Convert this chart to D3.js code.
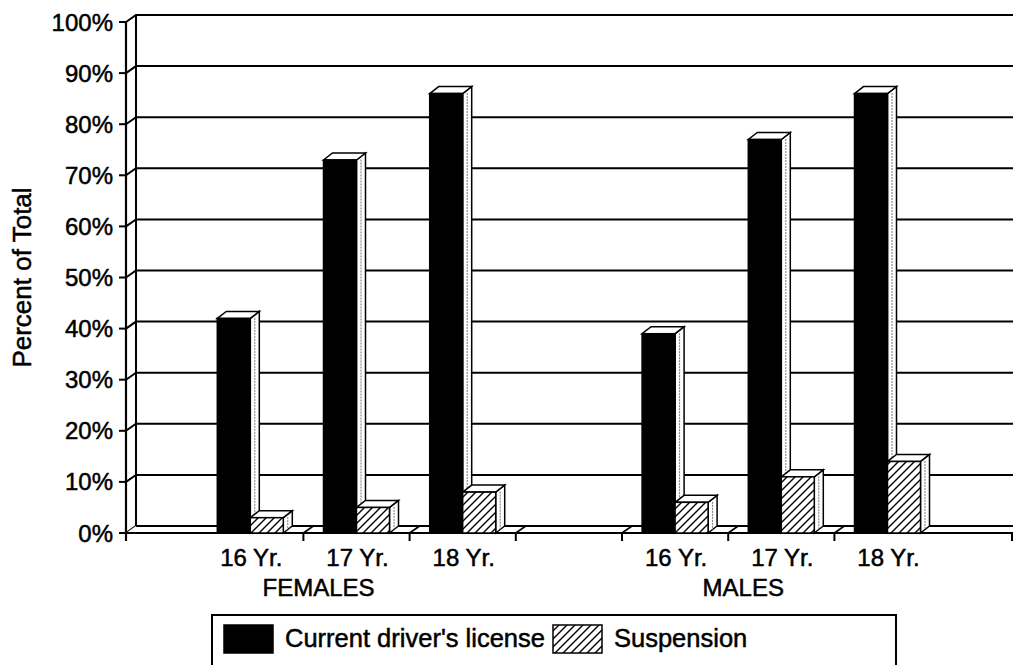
<!DOCTYPE html>
<html>
<head>
<meta charset="utf-8">
<script src="https://cdn.jsdelivr.net/npm/d3@7"></script>
<style>
  body { margin: 0; background: #fff; }
  svg text { font-family: "Liberation Sans", Arial, sans-serif; fill: #000; stroke: #000; stroke-width: 0.5px; }
</style>
</head>
<body>
<svg id="chart" width="1013" height="665"></svg>
<script>
// chart data
const groups = ["FEMALES", "MALES"];
const categories = ["16 Yr.", "17 Yr.", "18 Yr."];
const seriesNames = ["Current driver's license", "Suspension"];
const licenseValues = [42, 73, 86, 39, 77, 86];
const suspensionValues = [3, 5, 8, 6, 11, 14];
const yTicks = [0, 10, 20, 30, 40, 50, 60, 70, 80, 90, 100];
const yTickLabels = ["0%", "10%", "20%", "30%", "40%", "50%", "60%", "70%", "80%", "90%", "100%"];
const yTitle = "Percent of Total";

function main() {
    let svg = d3.select("#chart");
    let fontSize = 24;

    // slots along the category axis: a lead slot, the female ages, a gap, the male ages, a tail
    let slots = ["lead"];
    groups.forEach((g, gi) => {
        categories.forEach((c) => slots.push(g + "|" + c));
        if (gi < groups.length - 1) slots.push("gap" + gi);
    });
    slots.push("tail");
    let points = [];
    groups.forEach((g, gi) => {
        categories.forEach((c, ci) => {
            let k = gi * categories.length + ci;
            points.push({ slot: g + "|" + c, label: c, license: licenseValues[k], suspension: suspensionValues[k] });
        });
    });

    let slotW = 106.2;
    let x = d3.scaleBand().domain(slots).range([91, 91 + slots.length * slotW]).padding(0);
    let y = d3.scaleLinear().domain([0, 100]).range([533, 22]);

    let left = 126, right = 1012;
    let dx = 10, dy = -7;      // depth of the walls
    let bdx = 9, bdy = -7;     // depth of a bar
    let barW = 33;
    let ink = "#000";

    let defs = svg.append("defs");
    let pat = defs.append("pattern")
        .attr("id", "hatch")
        .attr("patternUnits", "userSpaceOnUse")
        .attr("width", 8)
        .attr("height", 8);
    pat.append("rect").attr("width", 8).attr("height", 8).attr("fill", "#fff");
    pat.append("path")
        .attr("d", "M-2,2 L2,-2 M0,8 L8,0 M6,10 L10,6")
        .attr("stroke", ink)
        .attr("stroke-width", 1.4);

    // back wall gridlines and left wall
    let walls = svg.append("g");
    walls.selectAll(".grid")
        .data(yTicks)
        .enter()
        .append("path")
        .attr("class", "grid")
        .attr("fill", "none")
        .attr("stroke", ink)
        .attr("stroke-width", 2)
        .attr("d", (d) => `M${left},${y(d)} L${left + dx},${y(d) + dy} L${right + dx + 20},${y(d) + dy}`);
    walls.append("line")
        .attr("x1", left + dx).attr("x2", left + dx)
        .attr("y1", y(100) + dy).attr("y2", y(0) + dy)
        .attr("stroke", ink).attr("stroke-width", 2);

    // floor
    let floor = svg.append("g");
    floor.append("polygon")
        .attr("points", [[left, y(0)], [left + dx, y(0) + dy], [right + dx + 20, y(0) + dy], [right + 20, y(0)]].join(" "))
        .attr("fill", "#fff");
    floor.append("line")
        .attr("x1", left).attr("x2", right + 20)
        .attr("y1", y(0)).attr("y2", y(0))
        .attr("stroke", ink).attr("stroke-width", 2.2);
    floor.append("line")
        .attr("x1", left + dx).attr("x2", right + 20)
        .attr("y1", y(0) + dy).attr("y2", y(0) + dy)
        .attr("stroke", ink).attr("stroke-width", 2);

    // category separator ticks: between the labelled slots and the gap
    let tickX = [];
    for (let i = 2; i < slots.length - 1; i++) tickX.push(x(slots[i]));
    floor.selectAll(".sep")
        .data(tickX)
        .enter()
        .append("line")
        .attr("class", "sep")
        .attr("x1", (d) => d).attr("y1", y(0))
        .attr("x2", (d) => d + dx).attr("y2", y(0) + dy)
        .attr("stroke", ink).attr("stroke-width", 1.6);

    // bars
    function drawBar(g, x1, v, fill) {
        let yT = y(v), yB = y(0), x2 = x1 + barW;
        g.append("polygon")
            .attr("points", [[x2, yT], [x2 + bdx, yT + bdy], [x2 + bdx, yB + bdy], [x2, yB]].join(" "))
            .attr("fill", "#fff").attr("stroke", ink).attr("stroke-width", 1.5);
        g.append("line")
            .attr("x1", x2 + bdx / 2).attr("x2", x2 + bdx / 2)
            .attr("y1", yT + bdy / 2 + 3).attr("y2", yB + bdy / 2)
            .attr("stroke", "#777").attr("stroke-width", 1).attr("stroke-dasharray", "2,1");
        g.append("polygon")
            .attr("points", [[x1, yT], [x1 + bdx, yT + bdy], [x2 + bdx, yT + bdy], [x2, yT]].join(" "))
            .attr("fill", "#fff").attr("stroke", ink).attr("stroke-width", 1.5);
        g.append("rect")
            .attr("x", x1).attr("y", yT)
            .attr("width", barW).attr("height", yB - yT)
            .attr("fill", fill).attr("stroke", ink).attr("stroke-width", 1.5);
    }
    let bars = svg.append("g");
    points.forEach((p) => {
        let c = x(p.slot) + x.bandwidth() / 2;
        let g = bars.append("g");
        drawBar(g, c - barW, p.license, ink);
        drawBar(g, c, p.suspension, "url(#hatch)");
    });

    // value axis
    let axis = svg.append("g");
    axis.append("line")
        .attr("x1", left).attr("x2", left)
        .attr("y1", y(100)).attr("y2", y(0) + 7)
        .attr("stroke", ink).attr("stroke-width", 2.2);
    axis.selectAll(".ytick")
        .data(yTicks)
        .enter()
        .append("line")
        .attr("class", "ytick")
        .attr("x1", left - 7).attr("x2", left)
        .attr("y1", (d) => y(d)).attr("y2", (d) => y(d))
        .attr("stroke", ink).attr("stroke-width", 2);
    axis.selectAll(".ylab")
        .data(yTicks)
        .enter()
        .append("text")
        .attr("class", "ylab")
        .attr("x", left - 13)
        .attr("y", (d) => y(d) + 8.5)
        .attr("text-anchor", "end")
        .attr("font-size", fontSize)
        .text((d, i) => yTickLabels[i]);
    axis.append("text")
        .attr("transform", `translate(31,${(y(0) + y(100)) / 2}) rotate(-90)`)
        .attr("text-anchor", "middle")
        .attr("font-size", 26)
        .text(yTitle);

    // category axis ticks and labels
    axis.selectAll(".xtick")
        .data([left].concat(tickX, [right]))
        .enter()
        .append("line")
        .attr("class", "xtick")
        .attr("x1", (d) => d).attr("x2", (d) => d)
        .attr("y1", y(0)).attr("y2", y(0) + 8)
        .attr("stroke", ink).attr("stroke-width", 2);
    axis.selectAll(".xlab")
        .data(points)
        .enter()
        .append("text")
        .attr("class", "xlab")
        .attr("x", (d) => x(d.slot) + x.bandwidth() / 2 + 1)
        .attr("y", 566)
        .attr("text-anchor", "middle")
        .attr("font-size", fontSize)
        .text((d) => d.label);
    axis.selectAll(".glab")
        .data(groups)
        .enter()
        .append("text")
        .attr("class", "glab")
        .attr("x", (d) => x(d + "|" + categories[1]) + x.bandwidth() / 2 - 38)
        .attr("y", 596)
        .attr("text-anchor", "middle")
        .attr("font-size", fontSize)
        .text((d) => d);

    // legend
    let legend = svg.append("g");
    legend.append("rect")
        .attr("x", 212).attr("y", 615)
        .attr("width", 684).attr("height", 70)
        .attr("fill", "#fff").attr("stroke", ink).attr("stroke-width", 2);
    let swatchX = [224, 553];
    let fills = [ink, "url(#hatch)"];
    seriesNames.forEach((name, i) => {
        legend.append("rect")
            .attr("x", swatchX[i]).attr("y", 625)
            .attr("width", 49).attr("height", 28)
            .attr("fill", fills[i]).attr("stroke", ink).attr("stroke-width", 1.5);
        legend.append("text")
            .attr("x", swatchX[i] + 61).attr("y", 647)
            .attr("font-size", 25.5)
            .text(name);
    });
}
main();
</script>
</body>
</html>
